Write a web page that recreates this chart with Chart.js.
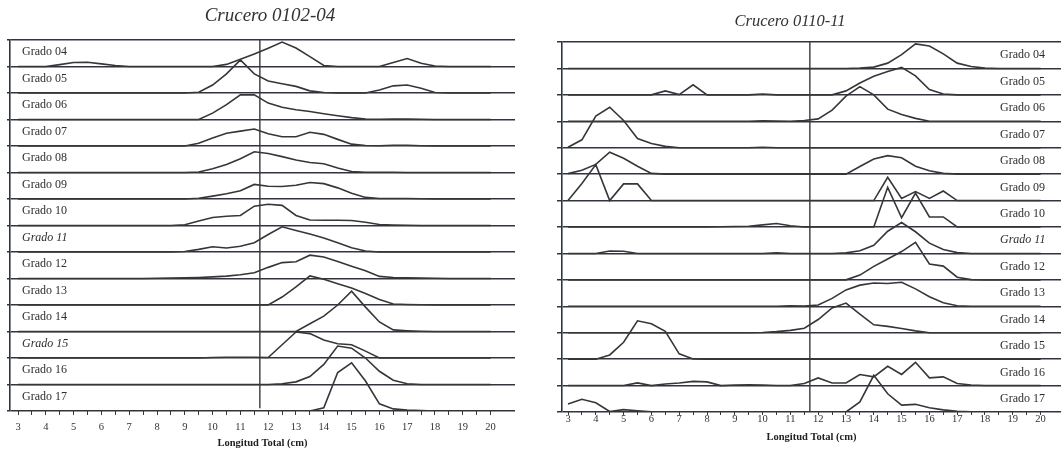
<!DOCTYPE html>
<html>
<head>
<meta charset="utf-8">
<script src="https://cdn.jsdelivr.net/npm/chart.js@4/dist/chart.umd.min.js"></script>
<style>
  html, body { margin: 0; padding: 0; background: #ffffff; }
  #lienzo { position: relative; width: 1061px; height: 453px; }
  #lienzo canvas { position: absolute; left: 0; top: 0; }
</style>
</head>
<body>
<div id="lienzo">
  <canvas id="crucero1" width="1061" height="453"></canvas>
  <canvas id="crucero2" width="1061" height="453"></canvas>
</div>
<script>
// Clases de longitud total (cm), cada 0.5 cm
const longitudes = [3,3.5,4,4.5,5,5.5,6,6.5,7,7.5,8,8.5,9,9.5,10,10.5,11,11.5,12,12.5,13,13.5,14,14.5,15,15.5,16,16.5,17,17.5,18,18.5,19,19.5,20];
// Marcas del eje X (etiqueta solo en los enteros)
const marcasX = longitudes;
const grados = ['Grado 04','Grado 05','Grado 06','Grado 07','Grado 08','Grado 09','Grado 10',
                'Grado 11','Grado 12','Grado 13','Grado 14','Grado 15','Grado 16','Grado 17'];
// Talla de referencia (línea vertical)
const tallaReferencia = 11.7;

// Frecuencias relativas por grado (1 = separación entre bandas) — Crucero 0102-04
const a04 = [0,0,0,.07,.15,.16,.1,.04,0,0, 0,0,0,0,0,.08,.27,.47,.69,.92, .7,.37,.04,0,0,0,0,.15,.3,.12, .02,0,0,0,0];
const a05 = [0,0,0,0,0,0,0,0,0,0, 0,0,0,.03,.3,.72,1.25,.72,.45,.35, .25,.08,.02,0,0,0,.11,.27,.3,.18, .02,0,0,0,0];
const a06 = [0,0,0,0,0,0,0,0,0,0, 0,0,0,0,.24,.56,.93,.93,.62,.46, .37,.3,.22,.14,.07,.02,.01,.02,.02,.01, 0,0,0,0,0];
const a07 = [0,0,0,0,0,0,0,0,0,0, 0,0,0,.1,.3,.48,.56,.64,.46,.35, .35,.52,.44,.25,.07,.02,.01,.03,.03,.01, 0,0,0,0,0];
const a08 = [0,0,0,0,0,0,0,0,0,0, 0,0,0,.02,.14,.3,.52,.78,.72,.6, .47,.38,.33,.17,.04,.01,.01,.01,0,0, 0,0,0,0,0];
const a09 = [0,0,0,0,0,0,0,0,0,0, 0,0,0,.03,.11,.2,.31,.55,.48,.47, .52,.62,.58,.42,.22,.06,.02,.02,.02,.01, 0,0,0,0,0];
const a10 = [0,0,0,0,0,0,0,0,0,0, 0,0,.03,.17,.3,.35,.38,.73,.8,.76, .38,.21,.2,.2,.19,.12,.04,.02,.01,0, 0,0,0,0,0];
const a11 = [0,0,0,0,0,0,0,0,0,0, 0,0,.02,.1,.2,.15,.22,.35,.66,.95, .81,.68,.53,.35,.16,.04,0,0,0,0, 0,0,0,0,0];
const a12 = [0,0,0,0,0,0,0,0,0,0, .01,.02,.03,.04,.06,.09,.14,.22,.42,.6, .63,.88,.81,.64,.46,.29,.08,.04,.03,.02, .01,0,0,0,0];
const a13 = [0,0,0,0,0,0,0,0,0,0, 0,0,0,0,0,0,0,0,0,.3, .68,1.1,.97,.8,.64,.43,.21,.04,.02,.01, 0,0,0,0,0];
const a14 = [0,0,0,0,0,0,0,0,0,0, 0,0,0,0,0,0,0,0,0,0, 0,.29,.58,1.0,1.52,.92,.36,.06,.03,.01, 0,0,0,0,0];
const a15 = [0,0,0,0,0,0,0,0,0,0, 0,0,0,0,.02,.03,.03,.03,.02,.5, .98,.92,.68,.54,.5,.26,0,0,0,0, 0,0,0,0,0];
const a16 = [0,0,0,0,0,0,0,0,0,0, 0,0,0,0,0,0,0,0,0,.03, .1,.3,.76,1.45,1.37,1.0,.5,.16,.03,0, 0,0,0,0,0];
const a17 = [0,0,0,0,0,0,0,0,0,0, 0,0,0,0,0,0,0,0,0,0, 0,0,.12,1.45,1.82,1.13,.27,.08,.04,.02, 0,0,0,0,0];

// Crucero 0110-11
const b04 = [0,0,0,0,0,0,0,0,0,0, 0,0,0,0,0,0,0,0,0,0, 0,.01,.05,.2,.52,.93,.85,.55,.2,.07, .01,0,0,0,0];
const b05 = [0,0,0,0,0,0,0,.15,.01,.38, 0,0,0,0,.03,0,0,0,0,0, .15,.45,.7,.88,1.04,.72,.2,.03,0,0, 0,0,0,0,0];
const b06 = [0,0,0,0,0,0,0,0,0,0, 0,0,0,0,.02,.01,0,.03,.09,.42, .95,1.31,1.0,.46,.26,.11,0,0,0,0, 0,0,0,0,0];
const b07 = [.02,.3,1.2,1.53,1.03,.35,.16,.05,0,0, 0,0,0,0,.02,0,0,0,0,0, 0,0,0,0,0,0,0,0,0,0, 0,0,0,0,0];
const b08 = [.02,.15,.37,.83,.6,.3,.03,0,0,0, 0,0,0,0,0,0,0,0,0,0, 0,.29,.57,.7,.62,.3,.13,.03,0,0, 0,0,0,0,0];
const b09 = [0,.65,1.36,0,.63,.63,0,0,0,0, 0,0,0,0,0,0,0,0,0,0, 0,0,0,.88,.08,.34,.08,.36,0,0, 0,0,0,0,0];
const b10 = [0,0,0,0,0,0,0,0,0,0, 0,.01,.02,.03,.08,.13,.05,0,0,0, 0,0,0,1.5,.35,1.28,.38,.38,0,0, 0,0,0,0,0];
const b11 = [0,0,0,.09,.08,0,0,0,0,0, 0,0,0,0,0,.02,0,0,0,0, .02,.1,.31,.84,1.17,.82,.39,.15,.03,0, 0,0,0,0,0];
const b12 = [0,0,0,0,0,0,0,0,0,0, 0,0,0,0,0,0,0,0,0,0, 0,.18,.51,.79,1.07,1.42,.6,.52,.1,.01, 0,0,0,0,0];
const b13 = [0,0,0,0,0,0,0,0,0,0, 0,0,0,0,0,0,.02,.01,.05,.3, .62,.8,.88,.86,.91,.66,.36,.13,.02,0, 0,0,0,0,0];
const b14 = [0,0,0,0,0,0,0,0,0,0, 0,0,0,0,.01,.04,.09,.17,.5,.94, 1.12,.7,.3,.24,.16,.07,0,0,0,0, 0,0,0,0,0];
const b15 = [0,0,0,.16,.64,1.45,1.34,1.05,.2,.01, 0,0,0,0,0,0,0,0,0,0, 0,0,0,0,0,0,0,0,0,0, 0,0,0,0,0];
const b16 = [0,0,0,0,0,.1,0,.06,.1,.16, .14,0,.02,.03,.02,0,0,.08,.29,.1, .1,.42,.33,.73,.42,.88,.29,.33,.08,.02, 0,0,0,0,0];
const b17 = [.3,.48,.35,.02,.09,.05,.01,0,0,0, 0,0,0,0,0,0,0,0,0,0, 0,.38,1.39,.69,.26,.29,.16,.08,.03,.01, 0,0,0,0,0];

const series0102 = [a04,a05,a06,a07,a08,a09,a10,a11,a12,a13,a14,a15,a16,a17];
const series0110 = [b04,b05,b06,b07,b08,b09,b10,b11,b12,b13,b14,b15,b16,b17];

const SERIF = '"Liberation Serif", "DejaVu Serif", serif';
const TINTA = '#363636';
const LINEA = '#30343f';

// Rótulos de cada banda y título del crucero
const rotulos = {
  id: 'rotulos',
  afterDatasetsDraw(chart, args, o) {
    const { ctx } = chart;
    const y = chart.scales.y;
    ctx.save();
    ctx.fillStyle = '#2e2e2e';
    ctx.textBaseline = 'middle';
    ctx.textAlign = 'left';
    grados.forEach((t, i) => {
      const yc = (y.getPixelForValue(14 - i) + y.getPixelForValue(13 - i)) / 2;
      ctx.font = (o.cursivas.includes(i) ? 'italic ' : '') + o.tam + 'px ' + SERIF;
      ctx.fillText(t, o.x, yc + o.dy);
    });
    ctx.font = 'italic ' + o.tamTitulo + 'px ' + SERIF;
    ctx.textAlign = 'center';
    ctx.textBaseline = 'alphabetic';
    ctx.fillStyle = '#333';
    ctx.fillText(o.titulo, o.tx, o.ty);
    ctx.restore();
  }
};

const fondo = {
  id: 'fondo',
  beforeDraw(chart, args, o) {
    if (!o.color) return;
    const { ctx } = chart;
    ctx.save();
    ctx.fillStyle = o.color;
    ctx.fillRect(0, 0, chart.width, chart.height);
    ctx.restore();
  }
};

function crearPanel(id, series, cfg) {
  const datasets = series.map((vals, i) => ({
    label: grados[i],
    data: longitudes.map((l, k) => ({ x: l, y: (13 - i) + vals[k] })),
    borderColor: TINTA,
    borderWidth: 1.6,
    pointRadius: 0,
    tension: 0,
    fill: false
  }));
  datasets.push({
    label: 'talla',
    data: [{ x: tallaReferencia, y: cfg.refInicio }, { x: tallaReferencia, y: 14 }],
    borderColor: '#3a3a3a',
    borderWidth: 1.4,
    pointRadius: 0
  });

  return new Chart(document.getElementById(id), {
    type: 'line',
    data: { datasets },
    options: {
      responsive: false,
      animation: false,
      devicePixelRatio: 1,
      layout: { padding: cfg.padding },
      plugins: {
        legend: { display: false },
        tooltip: { enabled: false },
        fondo: { color: cfg.fondo },
        rotulos: cfg.rotulos
      },
      scales: {
        x: {
          type: 'linear',
          min: cfg.xmin,
          max: cfg.xmax,
          afterBuildTicks: (s) => { s.ticks = marcasX.map(v => ({ value: v })); },
          afterFit: (s) => { s.height = cfg.altoEje; },
          ticks: {
            autoSkip: false,
            maxRotation: 0,
            padding: cfg.sepEtiqueta,
            color: '#333',
            font: { family: SERIF, size: 10.5 },
            callback: (v) => Number.isInteger(v) ? String(v) : ''
          },
          grid: { drawOnChartArea: false, drawTicks: true, tickLength: cfg.largoMarca, color: '#3a3a3a', lineWidth: 1 },
          border: { display: false },
          title: {
            display: true,
            text: 'Longitud Total (cm)',
            color: '#222',
            font: { family: SERIF, size: 10.5, weight: 'bold' },
            padding: { top: 0, bottom: cfg.sepTitulo }
          }
        },
        y: {
          type: 'linear',
          min: 0,
          max: 14,
          afterFit: (s) => { s.width = 0; },
          ticks: { stepSize: 1, display: false },
          grid: { color: LINEA, lineWidth: 1.5, drawTicks: true, tickLength: cfg.largoGuia },
          border: { display: true, color: LINEA, width: 1.6 }
        }
      }
    },
    plugins: [fondo, rotulos]
  });
}

crearPanel('crucero1', series0102, {
  padding: { left: 10, right: 546, top: 40, bottom: 0 },
  xmin: 2.712, xmax: 20.878,
  altoEje: 42, sepEtiqueta: 6, largoMarca: 4, sepTitulo: 3, largoGuia: 3,
  refInicio: 0.1,
  fondo: '#ffffff',
  rotulos: { x: 22, dy: -1, tam: 12, cursivas: [7, 11], titulo: 'Crucero 0102-04', tamTitulo: 19, tx: 270, ty: 21 }
});

crearPanel('crucero2', series0110, {
  padding: { left: 562, right: 0, top: 42, bottom: 0 },
  xmin: 2.784, xmax: 20.734,
  altoEje: 41, sepEtiqueta: -2, largoMarca: 3, sepTitulo: 9, largoGuia: 5,
  refInicio: 0,
  fondo: null,
  rotulos: { x: 1000, dy: 0, tam: 12, cursivas: [7], titulo: 'Crucero 0110-11', tamTitulo: 16.5, tx: 790, ty: 26 }
});
</script>
</body>
</html>
